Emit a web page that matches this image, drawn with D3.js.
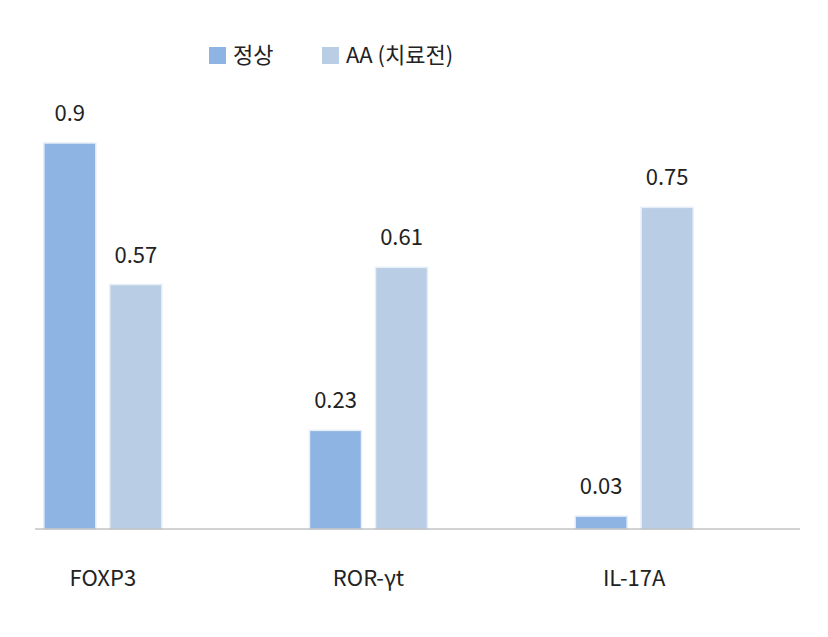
<!DOCTYPE html>
<html><head><meta charset="utf-8">
<script src="https://cdn.jsdelivr.net/npm/d3@7"></script>
<style>body{margin:0;background:#fff}</style></head>
<body><svg id="c" width="828" height="637"></svg>
<script>
const categories = ["FOXP3", "ROR-γt", "IL-17A"];
const seriesNames = ["정상", "AA (치료전)"];
const normalValues = [0.9, 0.23, 0.03];
const aaValues = [0.57, 0.61, 0.75];
const colors = ["#8EB4E3", "#B9CDE5"];
const font = "'Noto Sans CJK KR','Noto Sans',sans-serif";

const svg = d3.select("#c");
const x = d3.scaleBand().domain(categories).range([-30, 767]);
const y = d3.scaleLinear().domain([0, 0.9]).range([529, 143]);
const bw = 52, gap = 14;
const series = [normalValues, aaValues];

series.forEach((vals, si) => {
  const off = si === 0 ? -(bw + gap / 2) : gap / 2;
  const g = svg.append("g");
  g.selectAll("rect").data(vals).join("rect")
    .attr("x", (d, i) => x(categories[i]) + x.bandwidth() / 2 + off)
    .attr("y", d => y(d)).attr("width", bw).attr("height", d => y(0) - y(d))
    .attr("fill", colors[si]).attr("stroke", "#e6eef8").attr("stroke-width", 1.5);
  g.selectAll("text").data(vals).join("text")
    .attr("x", (d, i) => x(categories[i]) + x.bandwidth() / 2 + off + bw / 2)
    .attr("y", d => y(d) - 22).attr("text-anchor", "middle")
    .attr("font-family", font).attr("font-size", 22).attr("fill", "#222")
    .text(d => d);
});

svg.append("line").attr("x1", 35).attr("x2", 800).attr("y1", y(0)).attr("y2", y(0))
  .attr("stroke", "#a6a6a6").attr("stroke-width", 1);

svg.selectAll(".cat").data(categories).join("text")
  .attr("x", d => x(d) + x.bandwidth() / 2).attr("y", 586)
  .attr("text-anchor", "middle").attr("font-family", font).attr("font-size", 22).attr("fill", "#222")
  .text(d => d);

const lx = [209, 322];
seriesNames.forEach((n, i) => {
  svg.append("rect").attr("x", lx[i]).attr("y", 47).attr("width", 17).attr("height", 17).attr("fill", colors[i]);
  svg.append("text").attr("x", lx[i] + 24).attr("y", 63).attr("font-family", font)
    .attr("font-size", 22).attr("fill", "#222").text(n);
});
</script></body></html>
